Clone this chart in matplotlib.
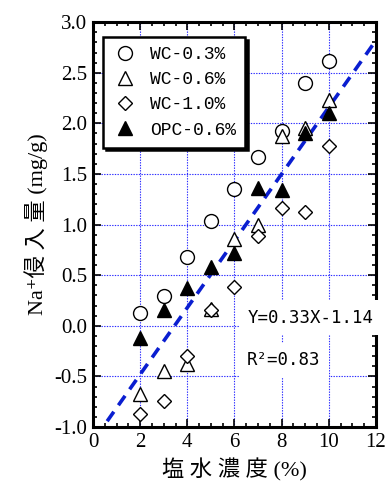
import matplotlib
matplotlib.use('Agg')
from matplotlib import pyplot as plt
from matplotlib.ticker import MultipleLocator
import numpy as np

# salt water concentration (%)
conc = [2, 3, 4, 5, 6, 7, 8, 9, 10]

wc_03 = [0.13, 0.29, 0.68, 1.04, 1.35, 1.67, 1.92, 2.40, 2.62]
wc_06 = [-0.67, -0.45, -0.38, 0.17, 0.86, 1.00, 1.88, 1.95, 2.23]
wc_10 = [-0.87, -0.74, -0.30, 0.16, 0.38, 0.89, 1.16, 1.12, 1.78]
opc_06 = [-0.12, 0.16, 0.37, 0.58, 0.72, 1.36, 1.34, 1.90, 2.10]

fit_slope = 0.33
fit_icpt = -1.14
fit_x = [0.6, 12]

SERIF = ['Liberation Serif', 'Noto Sans CJK JP', 'DejaVu Sans']
plt.rcParams['font.family'] = SERIF

fig = plt.figure(figsize=(3.9, 4.92), dpi=100)
ax = fig.add_axes([0.2385, 0.132, 0.7255, 0.823])

ax.grid(True, color='#2a2aff', linestyle=(0, (1.2, 1.2)), linewidth=0.8)
ax.set_axisbelow(True)

fx = np.array(fit_x)
ax.plot(fx, fit_slope * fx + fit_icpt, color='#0a1ed0', lw=2.6,
        linestyle=(0, (3.2, 2.2)), zorder=2)

ms = 10
ax.plot(conc, wc_03, 'o', mfc='white', mec='black', mew=1.0, ms=ms,
        label='WC-0.3%', zorder=3)
ax.plot(conc, wc_06, '^', mfc='white', mec='black', mew=1.0, ms=ms,
        label='WC-0.6%', zorder=3)
ax.plot(conc, wc_10, 'D', mfc='white', mec='black', mew=1.0, ms=7,
        label='WC-1.0%', zorder=3)
ax.plot(conc, opc_06, '^', mfc='black', mec='black', mew=1.0, ms=ms,
        label='OPC-0.6%', zorder=4)

ax.set_xlim(0, 12)
ax.set_ylim(-1.0, 3.0)
ax.xaxis.set_major_locator(MultipleLocator(2))
ax.xaxis.set_minor_locator(MultipleLocator(0.5))
ax.yaxis.set_major_locator(MultipleLocator(0.5))
ax.yaxis.set_minor_locator(MultipleLocator(0.1))
ax.yaxis.set_major_formatter(lambda v, p: f'{v:.1f}')

ax.tick_params(which='both', direction='in', top=True, right=True,
               labelsize=15, width=1.2, pad=4)
ax.tick_params(which='major', length=6)
ax.tick_params(which='minor', length=3)
for s in ax.spines.values():
    s.set_linewidth(2.2)

ax.set_xlabel('塩 水 濃 度 (%)', fontsize=16, labelpad=5)
ax.set_ylabel('Na⁺侵 入 量 (mg/g)', fontsize=16, labelpad=5)

leg = ax.legend(loc='upper left', bbox_to_anchor=(0.035, 0.963),
                prop={'family': ['Liberation Mono', 'DejaVu Sans Mono'], 'size': 13},
                frameon=True, fancybox=False, borderaxespad=0,
                handletextpad=0.6, labelspacing=0.45, handlelength=1.5,
                borderpad=0.5,
                shadow={'color': 'black', 'ox': 2, 'oy': -2, 'alpha': 1})
leg.get_frame().set_edgecolor('black')
leg.get_frame().set_linewidth(1.8)
leg.get_frame().set_alpha(1)

mono = ['DejaVu Sans Mono', 'DejaVu Sans']
ax.text(0.545, 0.27, 'Y=0.33X-1.14', transform=ax.transAxes, fontsize=12.5,
        family=mono, va='center', ha='left',
        bbox=dict(facecolor='white', edgecolor='none', pad=6))
ax.text(0.545, 0.165, 'R²=0.83', transform=ax.transAxes, fontsize=12.5,
        family=mono, va='center', ha='left',
        bbox=dict(facecolor='white', edgecolor='none', pad=6))

fig.savefig('out.png', dpi=100)
